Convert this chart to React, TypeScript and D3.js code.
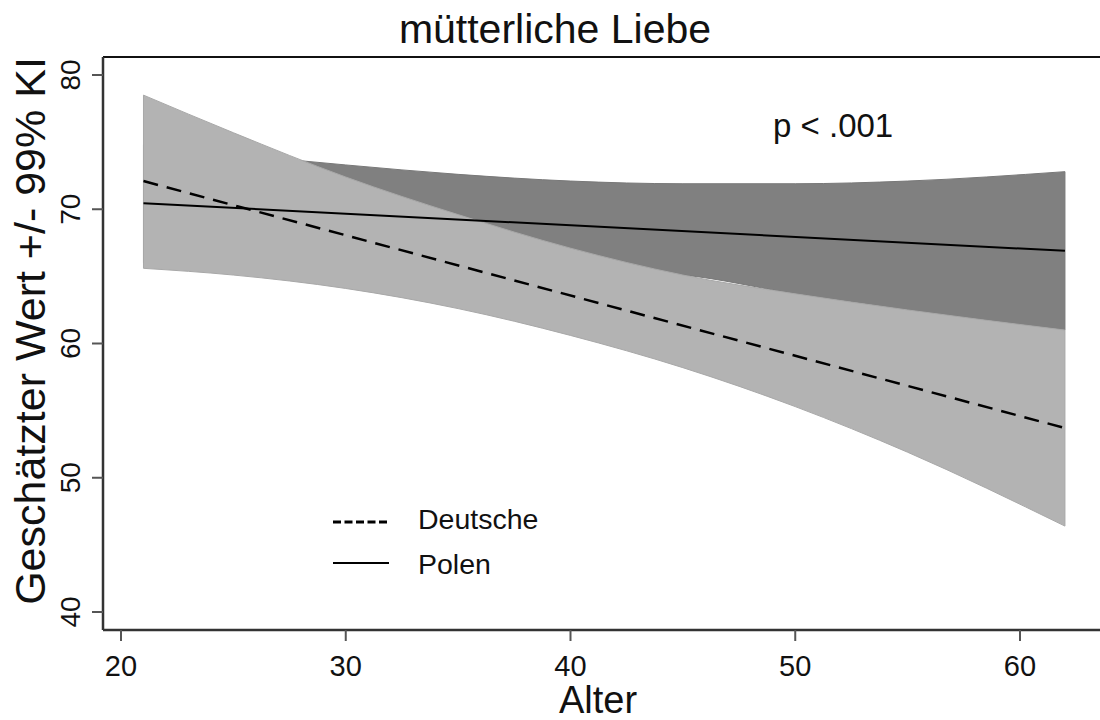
import * as d3 from 'd3';

const W = 1100;
const H = 720;

const ages = [21, 25, 30, 35, 40, 45, 50, 55, 62];
const deUpper = [78.5, 75.7, 72.4, 69.6, 67.1, 65.1, 63.7, 62.5, 61.0];
const deLower = [65.6, 65.1, 64.1, 62.6, 60.6, 58.2, 55.3, 51.9, 46.4];
const plUpper = [74.8, 74.1, 73.3, 72.6, 72.1, 71.9, 71.9, 72.1, 72.8];
const plLower = [66.0, 66.0, 65.9, 65.7, 65.5, 65.1, 63.7, 62.5, 61.0];

const fitAges = [21, 62];
const deFit = [72.1, 53.7];
const plFit = [70.45, 66.9];

const xTicks = [20, 30, 40, 50, 60];
const yTicks = [40, 50, 60, 70, 80];

const legendItems = [
  { label: 'Deutsche', dash: '8,3.5' },
  { label: 'Polen', dash: null },
];

const FONT = 'Arial, "Liberation Sans", sans-serif';

export default function App() {
  const x = d3.scaleLinear().domain([20, 60]).range([121, 1020]);
  const y = d3.scaleLinear().domain([40, 80]).range([612, 75]);

  const left = 103;
  const top = 57;
  const bottom = 630;

  const band = (up: number[], lo: number[]) =>
    d3
      .area<number>()
      .x((a) => x(a))
      .y0((_, i) => y(lo[i]))
      .y1((_, i) => y(up[i]))
      .curve(d3.curveMonotoneX)(ages) || '';

  const fit = (vals: number[]) =>
    d3
      .line<number>()
      .x((a) => x(a))
      .y((_, i) => y(vals[i]))(fitAges) || '';

  return (
    <svg
      width={W}
      height={H}
      viewBox={`0 0 ${W} ${H}`}
      style={{ position: 'absolute', left: 0, top: 0, background: '#fff' }}
      fontFamily={FONT}
    >
      {/* confidence bands: Polen under Deutsche */}
      <path d={band(plUpper, plLower)} fill="#808080" stroke="#787878" strokeWidth={1} />
      <path d={band(deUpper, deLower)} fill="#b3b3b3" stroke="#a8a8a8" strokeWidth={1} />

      {/* fitted lines */}
      <path d={fit(plFit)} fill="none" stroke="#000" strokeWidth={2} />
      <path d={fit(deFit)} fill="none" stroke="#000" strokeWidth={2.5} strokeDasharray="15,9" />

      {/* frame */}
      <line x1={left} x2={W} y1={top} y2={top} stroke="#111" strokeWidth={2} />
      <line x1={left} x2={left} y1={top} y2={bottom} stroke="#333" strokeWidth={2.5} />
      <line x1={left} x2={W} y1={bottom} y2={bottom} stroke="#333" strokeWidth={2.5} />

      {/* y axis */}
      {yTicks.map((t) => (
        <g key={t}>
          <line x1={left - 11} x2={left} y1={y(t)} y2={y(t)} stroke="#555" strokeWidth={2} />
          <text
            transform={`translate(80, ${y(t)}) rotate(-90)`}
            textAnchor="middle"
            fontSize={28}
            fill="#111"
          >
            {t}
          </text>
        </g>
      ))}

      {/* x axis */}
      {xTicks.map((t) => (
        <g key={t}>
          <line x1={x(t)} x2={x(t)} y1={bottom} y2={bottom + 11} stroke="#555" strokeWidth={2} />
          <text x={x(t)} y={676} textAnchor="middle" fontSize={29} fill="#111">
            {t}
          </text>
        </g>
      ))}

      {/* titles */}
      <text x={555} y={43} textAnchor="middle" fontSize={41} fill="#111">
        mütterliche Liebe
      </text>
      <text x={598} y={713} textAnchor="middle" fontSize={38} fill="#111">
        Alter
      </text>
      <text
        transform={`translate(45, ${331}) rotate(-90)`}
        textAnchor="middle"
        fontSize={43}
        fill="#111"
      >
        Geschätzter Wert +/- 99% KI
      </text>

      <text x={773} y={137} fontSize={33} fill="#111">
        p &lt; .001
      </text>

      {/* legend */}
      {legendItems.map((d, i) => (
        <g key={d.label}>
          <line
            x1={333}
            x2={389}
            y1={522 + i * 41}
            y2={522 + i * 41}
            stroke="#000"
            strokeWidth={d.dash ? 3 : 2}
            strokeDasharray={d.dash || undefined}
          />
          <text x={418} y={529 + i * 45} fontSize={28.5} fill="#111">
            {d.label}
          </text>
        </g>
      ))}
    </svg>
  );
}
